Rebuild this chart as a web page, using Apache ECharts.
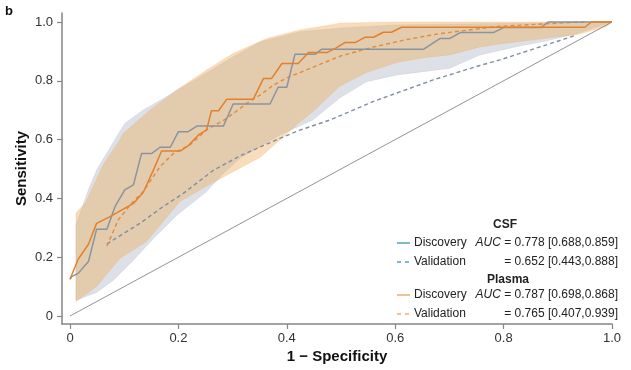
<!DOCTYPE html>
<html><head><meta charset="utf-8">
<script src="https://cdn.jsdelivr.net/npm/echarts@6/dist/echarts.min.js"></script>
<style>html,body{margin:0;padding:0;background:#fff}#c{width:631px;height:370px}</style>
</head><body><div id="c"></div>
<script>
const xTicks = [0, 0.2, 0.4, 0.6, 0.8, 1.0];
const yTicks = [0, 0.2, 0.4, 0.6, 0.8, 1.0];

const csfDiscovery = [[0,0.125],[0.003,0.134],[0.015,0.145],[0.034,0.185],[0.049,0.295],[0.068,0.295],[0.083,0.372],[0.101,0.429],[0.117,0.446],[0.132,0.553],[0.151,0.553],[0.166,0.574],[0.185,0.574],[0.2,0.627],[0.218,0.627],[0.234,0.646],[0.283,0.646],[0.301,0.721],[0.369,0.721],[0.384,0.778],[0.4,0.778],[0.415,0.890],[0.452,0.890],[0.464,0.907],[0.652,0.907],[0.683,0.944],[0.701,0.944],[0.72,0.964],[0.781,0.964],[0.8,0.981],[0.869,0.981],[0.882,1.0],[1.0,1.0]];
const csfValidation = [[0.068,0.245],[0.10,0.282],[0.129,0.315],[0.17,0.37],[0.209,0.417],[0.264,0.495],[0.314,0.545],[0.351,0.575],[0.387,0.604],[0.424,0.632],[0.48,0.667],[0.56,0.73],[0.67,0.803],[0.756,0.852],[0.793,0.871],[0.932,0.954]];
const plasmaDiscovery = [[0,0.125],[0.015,0.193],[0.034,0.244],[0.049,0.315],[0.074,0.338],[0.117,0.383],[0.135,0.42],[0.154,0.497],[0.169,0.561],[0.203,0.561],[0.218,0.579],[0.237,0.616],[0.252,0.633],[0.261,0.698],[0.274,0.698],[0.289,0.737],[0.338,0.737],[0.357,0.808],[0.372,0.808],[0.391,0.859],[0.421,0.859],[0.44,0.896],[0.474,0.896],[0.492,0.913],[0.507,0.930],[0.526,0.930],[0.544,0.948],[0.56,0.948],[0.578,0.965],[0.593,0.965],[0.612,0.982],[0.95,0.982],[0.962,1.0],[1.0,1.0]];
const plasmaValidation = [[0.068,0.238],[0.089,0.327],[0.112,0.38],[0.135,0.423],[0.166,0.508],[0.191,0.553],[0.221,0.582],[0.252,0.633],[0.289,0.672],[0.326,0.723],[0.351,0.752],[0.375,0.785],[0.40,0.81],[0.44,0.84],[0.50,0.885],[0.56,0.915],[0.62,0.94],[0.68,0.96],[0.79,0.985],[0.92,0.998],[0.95,1.0]];

const csfUpper = [[0.011,0.31],[0.034,0.43],[0.05,0.50],[0.07,0.56],[0.086,0.61],[0.101,0.655],[0.135,0.701],[0.178,0.746],[0.24,0.814],[0.301,0.882],[0.351,0.933],[0.424,0.967],[0.5,0.98],[0.6,0.99],[0.8,0.995],[1.0,1.0]];
const csfLower = [[0.011,0.054],[0.049,0.08],[0.08,0.122],[0.117,0.19],[0.154,0.264],[0.197,0.343],[0.25,0.42],[0.28,0.48],[0.314,0.537],[0.387,0.616],[0.448,0.667],[0.498,0.742],[0.547,0.797],[0.603,0.82],[0.652,0.831],[0.701,0.843],[0.756,0.888],[0.824,0.916],[0.886,0.939],[0.935,0.961],[1.0,1.0]];
const plasmaUpper = [[0.011,0.352],[0.028,0.383],[0.061,0.514],[0.092,0.599],[0.098,0.621],[0.148,0.701],[0.197,0.769],[0.252,0.837],[0.301,0.893],[0.363,0.944],[0.424,0.973],[0.461,0.984],[0.498,0.996],[0.6,1.0],[1.0,1.0]];
const plasmaLower = [[0.011,0.049],[0.049,0.10],[0.092,0.196],[0.141,0.253],[0.203,0.39],[0.25,0.44],[0.30,0.49],[0.351,0.54],[0.40,0.62],[0.424,0.66],[0.448,0.695],[0.498,0.782],[0.547,0.828],[0.603,0.862],[0.652,0.878],[0.701,0.888],[0.756,0.915],[0.793,0.925],[0.891,0.948],[0.935,0.957],[0.99,0.985],[1.0,1.0]];
const diagonal = [[0,0],[1,1]];

function band(upper, lower, fill) {
  const poly = upper.concat(lower.slice().reverse());
  return {
    type: 'custom', data: [[0, 0]], silent: true, clip: true,
    renderItem: function (params, api) {
      return { type: 'polygon', shape: { points: poly.map(p => api.coord(p)) },
               style: { fill: fill, stroke: fill, lineWidth: 0.6 } };
    }
  };
}
function line(data, color, dashed, width) {
  return { type: 'line', data: data, showSymbol: false, silent: true,
           lineStyle: { color: color, width: width, type: dashed ? [4, 3] : 'solid' } };
}

const FONT = '"Liberation Sans", Arial, sans-serif';
const chart = echarts.init(document.getElementById('c'), null, { renderer: 'canvas' });
const legendX = 397, rightX = 618;
function legRow(y, color, dashed, label, auc, showAuc) {
  const els = [];
  if (dashed) {
    els.push({ type: 'line', shape: { x1: legendX, y1: y, x2: legendX + 4, y2: y }, style: { stroke: color, lineWidth: 1.3 } });
    els.push({ type: 'line', shape: { x1: legendX + 8, y1: y, x2: legendX + 12, y2: y }, style: { stroke: color, lineWidth: 1.3 } });
  } else {
    els.push({ type: 'line', shape: { x1: legendX, y1: y, x2: legendX + 13, y2: y }, style: { stroke: color, lineWidth: 1.3 } });
  }
  els.push({ type: 'text', x: legendX + 17, y: y, style: { text: label, font: '12px ' + FONT, fill: '#222', verticalAlign: 'middle', textAlign: 'left' } });
  els.push({ type: 'text', x: rightX, y: y, style: {
    text: (showAuc ? '{i|AUC} ' : '') + auc, font: '12px ' + FONT, fill: '#222', verticalAlign: 'middle', textAlign: 'right',
    rich: { i: { fontStyle: 'italic', fontSize: 12, fontFamily: FONT, fill: '#222' } } } });
  return els;
}
const graphics = [
  { type: 'text', x: 5, y: 5, style: { text: 'b', font: 'bold 13px ' + FONT, fill: '#111' } },
  { type: 'text', x: 505, y: 225, style: { text: 'CSF', font: 'bold 12px ' + FONT, fill: '#222', textAlign: 'center', verticalAlign: 'middle' } },
  { type: 'text', x: 508, y: 280, style: { text: 'Plasma', font: 'bold 12px ' + FONT, fill: '#222', textAlign: 'center', verticalAlign: 'middle' } }
].concat(
  legRow(243, '#3f8fbb', false, 'Discovery', '= 0.778 [0.688,0.859]', true),
  legRow(262, '#3f8fbb', true, 'Validation', '= 0.652 [0.443,0.888]', false),
  legRow(295, '#e9a258', false, 'Discovery', '= 0.787 [0.698,0.868]', true),
  legRow(314, '#e9a258', true, 'Validation', '= 0.765 [0.407,0.939]', false)
);

const fmt = v => (Math.abs(v) < 1e-9 ? '0' : v.toFixed(1));
const axisCommon = {
  type: 'value', splitLine: { show: false },
  axisLine: { show: true, onZero: false, lineStyle: { color: '#858585', width: 1.5 } },
  axisTick: { show: true, length: 5, lineStyle: { color: '#858585', width: 1.2 } },
  nameTextStyle: { fontFamily: FONT, fontWeight: 'bold', fontSize: 15, color: '#111' },
  nameLocation: 'middle', nameMoveOverlap: false
};
chart.setOption({
  animation: false,
  backgroundColor: '#fff',
  grid: { left: 62, right: 19, top: 13, bottom: 46 },
  xAxis: Object.assign({}, axisCommon, {
    min: -0.0148, max: 1.0, name: '1 − Specificity', nameGap: 25,
    axisTick: Object.assign({}, axisCommon.axisTick, { customValues: xTicks }),
    axisLabel: { customValues: xTicks, formatter: fmt, fontFamily: FONT, fontSize: 13, color: '#333', margin: 8 }
  }),
  yAxis: Object.assign({}, axisCommon, {
    min: -0.0272, max: 1.0306, name: 'Sensitivity', nameGap: 33,
    axisTick: Object.assign({}, axisCommon.axisTick, { customValues: yTicks }),
    axisLabel: { customValues: yTicks, formatter: fmt, fontFamily: FONT, fontSize: 13, color: '#333', margin: 9 }
  }),
  series: [
    band(csfUpper, csfLower, 'rgba(175,183,198,0.42)'),
    band(plasmaUpper, plasmaLower, 'rgba(238,170,90,0.40)'),
    line(diagonal, '#777', false, 0.8),
    line(csfValidation, '#7f8ea3', true, 1.4),
    line(plasmaValidation, '#e58a35', true, 1.4),
    line(csfDiscovery, '#8a949f', false, 1.5),
    line(plasmaDiscovery, '#e3812b', false, 1.5)
  ],
  graphic: graphics
});
</script></body></html>
